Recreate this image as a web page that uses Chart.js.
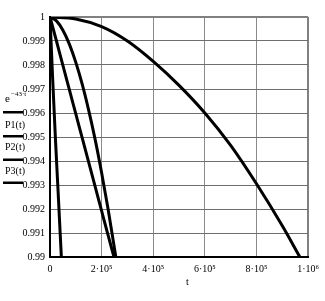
<!DOCTYPE html>
<html><head><meta charset="utf-8">
<script src="https://cdn.jsdelivr.net/npm/chart.js@4/dist/chart.umd.min.js"></script>
<style>html,body{margin:0;padding:0;background:#fff;}canvas{display:block;}</style>
</head><body>
<canvas id="c" width="325" height="301"></canvas>
<script>
// ---- data ----
const expT = [0, 1e4, 2e4, 3e4, 4.4e4];
const expV = [1, 0.99750, 0.99516, 0.99302, 0.99];

const p1T = [0, 2.5e4, 5e4, 7.5e4, 1e5, 1.25e5, 1.5e5, 1.75e5, 2e5, 2.25e5, 2.48e5];
const p1V = [1, 0.99900, 0.99798, 0.99697, 0.99596, 0.99495, 0.99394, 0.99293, 0.99192, 0.99091, 0.99];

const p2T = [0, 2.5e4, 5e4, 7.5e4, 1e5, 1.25e5, 1.5e5, 1.75e5, 2e5, 2.25e5, 2.55e5];
const p2V = [1, 0.99984, 0.99945, 0.99887, 0.99811, 0.99719, 0.99611, 0.99489, 0.99351, 0.99200, 0.99];

const p3T = [0, 1e5, 2e5, 3e5, 4e5, 5e5, 6e5, 7e5, 8e5, 9e5, 9.68e5];
const p3V = [1, 0.99992, 0.99960, 0.99900, 0.99815, 0.99715, 0.99600, 0.99465, 0.99305, 0.99130, 0.99];

const xTickValues = [0, 2e5, 4e5, 6e5, 8e5, 1e6];
const xTickLabels = ["0", "2·10⁵", "4·10⁵", "6·10⁵", "8·10⁵", "1·10⁶"];
const yTickValues = [0.99, 0.991, 0.992, 0.993, 0.994, 0.995, 0.996, 0.997, 0.998, 0.999, 1];
const yTickLabels = ["0.99", "0.991", "0.992", "0.993", "0.994", "0.995", "0.996", "0.997", "0.998", "0.999", "1"];

const legendLabels = ["P1(t)", "P2(t)", "P3(t)"];
const expLabelBase = "e";
const expLabelSup = "−43·t";
const xTitle = "t";

function pts(ts, vs) { return ts.map((t, i) => ({x: t, y: vs[i]})); }

const FONT = '"Liberation Serif", "Times New Roman", serif';

const textPlugin = {
  id: 'txt',
  afterDraw(chart) {
    const ctx = chart.ctx;
    ctx.save();
    ctx.fillStyle = '#000';
    ctx.textBaseline = 'alphabetic';
    ctx.textAlign = 'left';
    ctx.font = '11px ' + FONT;
    ctx.fillText(expLabelBase, 5, 102);
    ctx.font = '7px ' + FONT;
    ctx.fillText(expLabelSup, 11, 96);
    ctx.fillRect(3, 111, 20, 2.5);
    ctx.font = '10px ' + FONT;
    const ys = [128, 150, 174];
    const ls = [135, 158.5, 181.5];
    legendLabels.forEach((s, i) => {
      ctx.fillText(s, 5, ys[i]);
      ctx.fillRect(3, ls[i], 20, 2.5);
    });
    ctx.fillText(xTitle, 186, 285);
    ctx.restore();
  }
};

new Chart(document.getElementById('c'), {
  type: 'line',
  data: {
    datasets: [
      {data: pts(expT, expV)},
      {data: pts(p1T, p1V)},
      {data: pts(p2T, p2V)},
      {data: pts(p3T, p3V)}
    ].map(d => Object.assign(d, {
      borderColor: '#000', borderWidth: 3, pointRadius: 0,
      cubicInterpolationMode: 'monotone', fill: false
    }))
  },
  options: {
    responsive: false,
    animation: false,
    devicePixelRatio: 1,
    layout: {padding: {left: 0, right: 11, top: 17, bottom: 0}},
    plugins: {legend: {display: false}, tooltip: {enabled: false}},
    scales: {
      x: {
        type: 'linear', min: 0, max: 1e6,
        afterFit(s) { s.height = 44; },
        afterBuildTicks(s) { s.ticks = xTickValues.map(v => ({value: v})); },
        ticks: {
          padding: 6, color: '#000', maxRotation: 0, autoSkip: false,
          font: {family: FONT, size: 10},
          callback: (v, i) => xTickLabels[i]
        },
        grid: {
          drawTicks: false,
          color: (c) => c.index === xTickValues.length - 1 ? '#808080' : '#8a8a8a',
          lineWidth: (c) => c.index === xTickValues.length - 1 ? 2 : 1
        },
        border: {color: '#000', width: 2}
      },
      y: {
        type: 'linear', min: 0.99, max: 1,
        afterFit(s) { s.width = 50; },
        afterBuildTicks(s) { s.ticks = yTickValues.map(v => ({value: v})); },
        ticks: {
          padding: 5, color: '#000', autoSkip: false,
          font: {family: FONT, size: 10},
          callback: (v, i) => yTickLabels[i]
        },
        grid: {
          drawTicks: false,
          color: (c) => c.index === yTickValues.length - 1 ? '#808080' : '#6e6e6e',
          lineWidth: (c) => c.index === yTickValues.length - 1 ? 2 : 1
        },
        border: {color: '#000', width: 2}
      }
    }
  },
  plugins: [textPlugin]
});
</script>
</body></html>
